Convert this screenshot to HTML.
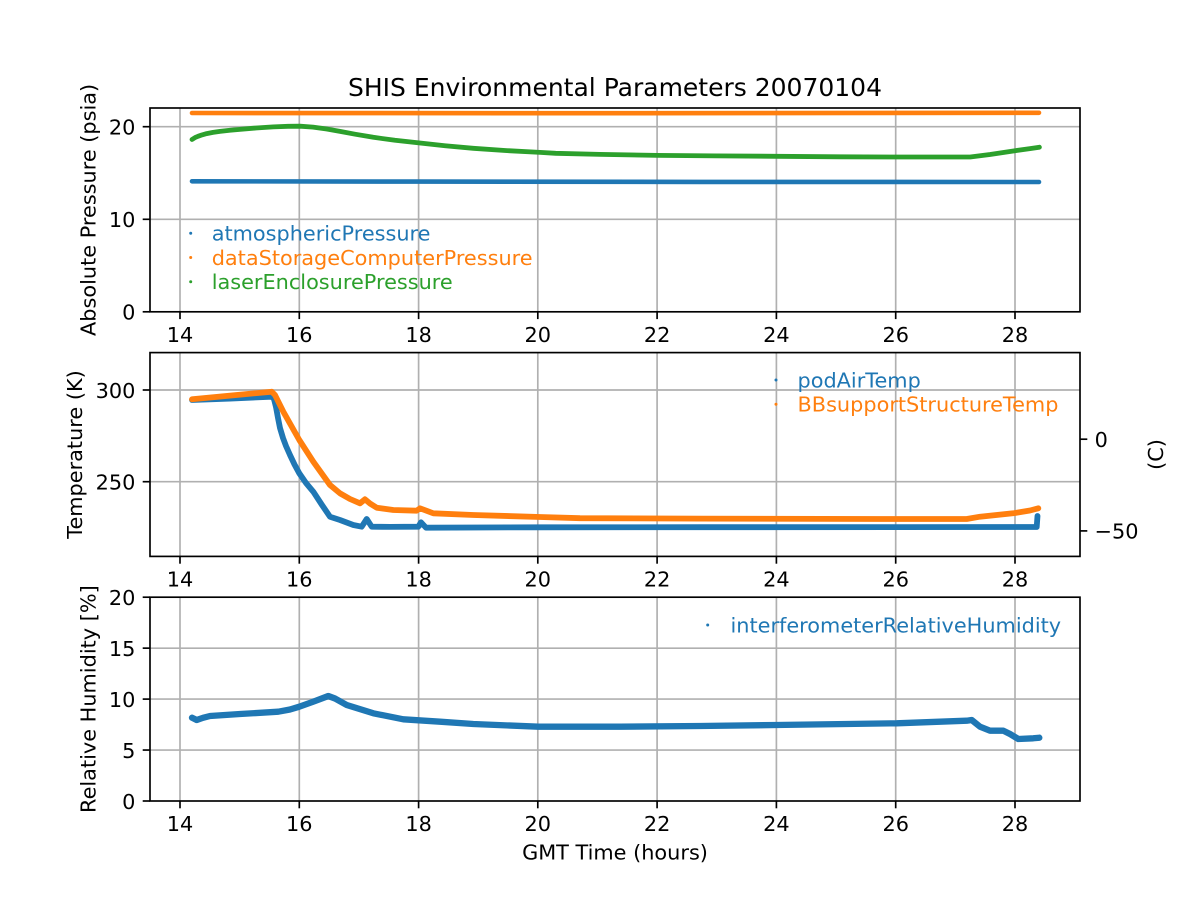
<!DOCTYPE html>
<html><head><meta charset="utf-8"><style>
html,body{margin:0;padding:0;background:#fff;}
svg{display:block;}
text{font-family:"DejaVu Sans","Liberation Sans",sans-serif;}
</style></head><body>
<svg width="1200" height="900" viewBox="0 0 1200 900" xmlns="http://www.w3.org/2000/svg">
<rect x="0" y="0" width="1200" height="900" fill="#fff"/>

<!-- ===== grids ===== -->
<g stroke="#b0b0b0" stroke-width="1.67" fill="none">
  <g id="vg">
  <line x1="180" y1="108" x2="180" y2="311.8"/>
  <line x1="299.3" y1="108" x2="299.3" y2="311.8"/>
  <line x1="418.6" y1="108" x2="418.6" y2="311.8"/>
  <line x1="537.8" y1="108" x2="537.8" y2="311.8"/>
  <line x1="657.1" y1="108" x2="657.1" y2="311.8"/>
  <line x1="776.4" y1="108" x2="776.4" y2="311.8"/>
  <line x1="895.7" y1="108" x2="895.7" y2="311.8"/>
  <line x1="1015" y1="108" x2="1015" y2="311.8"/>
  </g>
  <use href="#vg" transform="translate(0,244.6)"/>
  <use href="#vg" transform="translate(0,489.2)"/>
  <line x1="150" y1="219.3" x2="1080" y2="219.3"/>
  <line x1="150" y1="126.7" x2="1080" y2="126.7"/>
  <line x1="150" y1="390" x2="1080" y2="390"/>
  <line x1="150" y1="481.7" x2="1080" y2="481.7"/>
  <line x1="150" y1="750.05" x2="1080" y2="750.05"/>
  <line x1="150" y1="699.1" x2="1080" y2="699.1"/>
  <line x1="150" y1="648.15" x2="1080" y2="648.15"/>
</g>

<!-- ===== top panel data ===== -->
<g fill="none" stroke-linejoin="round" stroke-linecap="round">
  <polyline stroke="#1f77b4" stroke-width="4.6" points="192,181.3 420,181.6 700,181.9 1039,182"/>
  <polyline stroke="#ff7f0e" stroke-width="4.6" points="192,113 600,113.2 1039,112.8"/>
  <polyline stroke="#2ca02c" stroke-width="4.8" points="192,139.5 195,137.6 198,136.3 202,134.9 206.7,133.6 213,132.4 220,131.4 230,130.3 240,129.4 256,128 273.3,126.9 288,126.3 300,126.2 313,127.1 326.7,129 340,131.4 355,134.2 373.3,137.3 395,140.3 417.7,142.8 445,145.8 473.3,148.3 505,150.5 540,152.4 555.7,153.3 600,154.4 657.1,155.4 716,155.9 776.4,156.3 840,156.8 895.7,157 940,157 970.2,157 990,154.5 1015,150.7 1030,148.6 1039.4,147.2"/>
</g>

<!-- ===== middle panel data ===== -->
<g fill="none" stroke-linejoin="round" stroke-linecap="round">
  <polyline stroke="#1f77b4" stroke-width="5.8" points="192,400 230,398.6 271.7,396.7 274,399 276,407 278,418 280,428 283,438 286,446 290,455 294.5,464.5 299.3,473.3 306,483 313.3,491.7 322,505 330,516.7 340,520 353.3,525 361.7,526.7 366.7,519 371.7,526.7 390,526.9 418.3,526.7 421,522.3 426,527.7 540,527.3 700,527.2 900,527.1 1036.7,527 1037.5,516"/>
  <polyline stroke="#ff7f0e" stroke-width="5.8" points="192,399.3 230,395.6 271.7,391.7 275,395 283.3,411.7 299.3,440 313.3,461.7 330,485 340,493.3 350,499 360,503.3 365,499.3 370,503.5 376.7,507.7 393.3,510 416.7,510.7 420,508.3 433.3,513.3 473.3,515 540,517 580,518.2 700,518.6 880,519 966.7,519 980,516.7 1013,513.3 1030,510.5 1038.3,508.3"/>
</g>

<!-- ===== bottom panel data ===== -->
<polyline fill="none" stroke="#1f77b4" stroke-width="6.3" stroke-linejoin="round" stroke-linecap="round" points="192,717.7 196.7,720 203,717.8 210,716 240,714 278.3,711.7 290,709.5 299.3,706.7 313.3,701.7 328.3,696 335,698.5 346.7,705 373.3,713.3 403.3,719.3 440,721.7 473.3,724 538.3,726.7 573.3,726.7 620,726.7 700,726 776.7,725 896.7,723.3 966.7,720.7 971.7,720 980,726.7 990,730.7 1003.3,730.7 1010,734 1018.3,739 1033.3,738.3 1039.3,737.7"/>

<!-- ===== spines ===== -->
<g stroke="#000" stroke-width="1.67" fill="none">
  <rect x="150" y="108" width="930" height="203.8"/>
  <rect x="150" y="352.6" width="930" height="203.8"/>
  <rect x="150" y="597.2" width="930" height="203.8"/>
</g>

<!-- ===== ticks ===== -->
<g stroke="#000" stroke-width="1.67">
  <g id="xt">
  <line x1="180" y1="311.8" x2="180" y2="319.1"/>
  <line x1="299.3" y1="311.8" x2="299.3" y2="319.1"/>
  <line x1="418.6" y1="311.8" x2="418.6" y2="319.1"/>
  <line x1="537.8" y1="311.8" x2="537.8" y2="319.1"/>
  <line x1="657.1" y1="311.8" x2="657.1" y2="319.1"/>
  <line x1="776.4" y1="311.8" x2="776.4" y2="319.1"/>
  <line x1="895.7" y1="311.8" x2="895.7" y2="319.1"/>
  <line x1="1015" y1="311.8" x2="1015" y2="319.1"/>
  </g>
  <use href="#xt" transform="translate(0,244.6)"/>
  <use href="#xt" transform="translate(0,489.2)"/>
  <line x1="142.7" y1="311.8" x2="150" y2="311.8"/>
  <line x1="142.7" y1="219.3" x2="150" y2="219.3"/>
  <line x1="142.7" y1="126.7" x2="150" y2="126.7"/>
  <line x1="142.7" y1="390" x2="150" y2="390"/>
  <line x1="142.7" y1="481.7" x2="150" y2="481.7"/>
  <line x1="1080" y1="439.2" x2="1087.3" y2="439.2"/>
  <line x1="1080" y1="530.9" x2="1087.3" y2="530.9"/>
  <line x1="142.7" y1="801" x2="150" y2="801"/>
  <line x1="142.7" y1="750.05" x2="150" y2="750.05"/>
  <line x1="142.7" y1="699.1" x2="150" y2="699.1"/>
  <line x1="142.7" y1="648.15" x2="150" y2="648.15"/>
  <line x1="142.7" y1="597.2" x2="150" y2="597.2"/>
</g>

<!-- ===== tick labels ===== -->
<g font-size="20.83" fill="#000" text-anchor="middle">
  <g id="xl">
  <text x="180" y="342">14</text>
  <text x="299.3" y="342">16</text>
  <text x="418.6" y="342">18</text>
  <text x="537.8" y="342">20</text>
  <text x="657.1" y="342">22</text>
  <text x="776.4" y="342">24</text>
  <text x="895.7" y="342">26</text>
  <text x="1015" y="342">28</text>
  </g>
  <use href="#xl" transform="translate(0,244.6)"/>
  <use href="#xl" transform="translate(0,489.2)"/>
</g>
<g font-size="20.83" fill="#000" text-anchor="end">
  <text x="135.4" y="319.6">0</text>
  <text x="135.4" y="227.1">10</text>
  <text x="135.4" y="134.5">20</text>
  <text x="135.4" y="397.8">300</text>
  <text x="135.4" y="489.5">250</text>
  <text x="135.4" y="808.8">0</text>
  <text x="135.4" y="757.9">5</text>
  <text x="135.4" y="706.9">10</text>
  <text x="135.4" y="656">15</text>
  <text x="135.4" y="605">20</text>
</g>
<g font-size="20.83" fill="#000" text-anchor="start">
  <text x="1094.6" y="447">0</text>
  <text x="1094.6" y="538.7">−50</text>
</g>

<!-- ===== axis labels & title ===== -->
<text x="615" y="96" font-size="25" text-anchor="middle" fill="#000">SHIS Environmental Parameters 20070104</text>
<text x="615" y="859.3" font-size="20.83" text-anchor="middle" fill="#000">GMT Time (hours)</text>
<text transform="translate(95.5,209.9) rotate(-90)" font-size="20.83" text-anchor="middle" fill="#000">Absolute Pressure (psia)</text>
<text transform="translate(82,454.5) rotate(-90)" font-size="20.83" text-anchor="middle" fill="#000">Temperature (K)</text>
<text transform="translate(95.5,699.1) rotate(-90)" font-size="20.83" text-anchor="middle" fill="#000">Relative Humidity [%]</text>
<text transform="translate(1163,454.5) rotate(-90)" font-size="20.83" text-anchor="middle" fill="#000">(C)</text>

<!-- ===== legends ===== -->
<g font-size="20.83">
  <circle cx="190.7" cy="233.3" r="1.5" fill="#1f77b4"/>
  <circle cx="190.7" cy="257.5" r="1.5" fill="#ff7f0e"/>
  <circle cx="190.7" cy="281.7" r="1.5" fill="#2ca02c"/>
  <text x="211.7" y="240.6" fill="#1f77b4">atmosphericPressure</text>
  <text x="211.7" y="264.8" fill="#ff7f0e">dataStorageComputerPressure</text>
  <text x="211.7" y="289" fill="#2ca02c">laserEnclosurePressure</text>

  <circle cx="776" cy="380" r="1.5" fill="#1f77b4"/>
  <circle cx="776" cy="404.3" r="1.5" fill="#ff7f0e"/>
  <text x="797.5" y="387.3" fill="#1f77b4">podAirTemp</text>
  <text x="797.5" y="411.6" fill="#ff7f0e">BBsupportStructureTemp</text>

  <circle cx="707.7" cy="625" r="1.5" fill="#1f77b4"/>
  <text x="730.5" y="632.3" fill="#1f77b4">interferometerRelativeHumidity</text>
</g>
</svg>
</body></html>
